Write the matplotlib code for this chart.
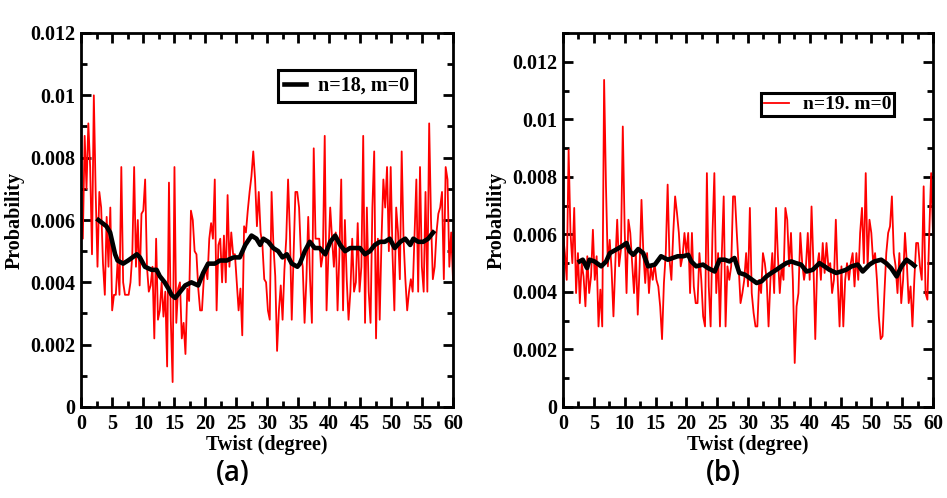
import numpy as np
import matplotlib
matplotlib.use("Agg")
import matplotlib.pyplot as plt
from matplotlib.ticker import MultipleLocator, FuncFormatter

# ---------------- data (probability, in units of 1e-3) ----------------
red_a = [5.8, 5.4, 8.7, 7.0, 9.1, 7.7, 4.9, 10.0, 6.9, 4.5, 6.9, 6.4, 4.6, 3.6, 6.1, 4.5, 6.4, 3.1,
         3.6, 3.6, 4.7, 3.6, 7.7, 4.0, 3.6, 3.6, 3.6, 4.0, 4.9, 7.7, 4.5, 6.0, 3.9, 6.2, 6.3, 7.3,
         4.5, 3.7, 3.9, 4.5, 2.2, 5.4, 2.8, 3.1, 4.0, 2.9, 3.7, 1.3, 7.2, 2.8, 0.8, 7.7, 2.7, 3.8,
         4.0, 2.2, 2.7, 1.7, 3.8, 3.4, 6.3, 6.0, 5.0, 4.9, 3.8, 3.1, 3.1, 4.1, 4.5, 4.1, 5.4, 5.9,
         5.4, 7.3, 3.1, 5.2, 5.4, 4.0, 5.5, 4.0, 6.8, 4.5, 5.6, 4.9, 4.9, 4.0, 3.1, 3.8, 2.3, 5.8,
         5.6, 6.3, 6.9, 7.4, 8.2, 7.3, 5.8, 6.9, 5.6, 5.2, 4.1, 4.0, 3.1, 2.8, 6.9, 5.2, 4.2, 1.8,
         3.1, 3.9, 2.8, 4.4, 5.4, 7.3, 5.6, 2.8, 4.9, 6.9, 6.9, 6.4, 4.9, 4.5, 2.7, 4.1, 6.1, 4.1,
         2.7, 8.3, 5.4, 5.4, 5.4, 4.5, 4.9, 8.7, 3.1, 4.9, 6.4, 5.4, 4.5, 5.6, 3.1, 4.9, 7.3, 3.1,
         6.0, 4.1, 2.8, 3.7, 5.4, 3.7, 4.0, 5.9, 3.7, 4.5, 8.7, 2.7, 6.4, 3.7, 2.7, 6.4, 8.2, 2.2,
         5.4, 2.8, 5.4, 7.3, 6.4, 7.7, 5.0, 7.7, 4.9, 3.1, 6.4, 5.6, 4.1, 8.2, 5.4, 4.1, 3.1, 3.7,
         4.1, 3.7, 5.5, 7.3, 3.7, 7.7, 4.5, 3.7, 6.9, 3.7, 9.1, 6.0, 4.1, 4.5, 5.6, 6.2, 6.4, 6.9,
         4.1, 7.7, 7.3, 4.5, 5.6, 4.1]

avg_a_x = [2.8, 4.1, 4.7, 5.5, 5.9, 6.8, 7.6, 9.0, 9.5, 10.3, 11.4, 12.2, 12.7, 13.5, 14.1, 14.6,
           15.2, 16.0, 16.8, 17.8, 18.9, 19.7, 20.5, 21.6, 22.4, 23.5, 24.6, 25.6, 26.5, 27.5,
           28.3, 28.9, 29.4, 30.2, 31.0, 31.8, 32.5, 33.2, 34.0, 34.9, 35.3, 36.1, 36.9, 37.7,
           38.5, 39.4, 40.2, 41.0, 41.8, 42.6, 43.4, 44.2, 45.0, 45.8, 46.6, 47.4, 48.2, 49.0,
           49.8, 50.6, 51.5, 52.3, 53.1, 53.6, 54.4, 55.2, 56.0, 56.8]
avg_a = [6.0, 5.8, 5.6, 4.9, 4.7, 4.6, 4.7, 4.9, 4.8, 4.5, 4.4, 4.4, 4.2, 4.0, 3.8, 3.6, 3.5, 3.7,
         3.9, 4.0, 3.9, 4.3, 4.6, 4.6, 4.7, 4.7, 4.8, 4.8, 5.2, 5.5, 5.4, 5.2, 5.4, 5.3, 5.1, 5.0,
         4.8, 4.9, 4.6, 4.5, 4.6, 5.0, 5.3, 5.1, 5.1, 4.9, 5.3, 5.5, 5.2, 5.0, 5.1, 5.1, 5.1, 4.9,
         5.0, 5.2, 5.3, 5.3, 5.4, 5.1, 5.3, 5.4, 5.2, 5.4, 5.3, 5.3, 5.4, 5.6]

red_b = [6.0, 5.35, 4.42, 8.94, 6.05, 5.0, 6.92, 3.96, 5.35, 3.61, 5.0, 4.54, 3.5, 5.24, 3.96, 4.54,
         6.16, 4.42, 5.24, 2.8, 4.08, 2.8, 11.37, 7.67, 4.89, 5.81, 4.77, 3.15, 5.0, 6.51, 4.89,
         5.47, 9.75, 6.16, 3.96, 6.51, 6.05, 5.0, 3.96, 5.35, 3.21, 4.89, 7.2, 5.35, 4.31, 5.35,
         3.96, 4.89, 4.42, 5.0, 4.42, 4.19, 3.5, 2.36, 4.31, 5.35, 7.73, 5.12, 4.42, 6.05, 7.32,
         6.74, 6.05, 4.89, 5.24, 6.05, 5.35, 6.05, 3.96, 6.05, 4.19, 3.61, 3.61, 5.35, 4.42, 3.15,
         2.8, 8.13, 4.19, 2.8, 6.05, 8.13, 3.96, 5.35, 2.8, 5.35, 7.32, 2.8, 4.89, 4.42, 4.89, 7.32,
         7.32, 6.05, 4.89, 3.61, 3.96, 4.42, 5.35, 4.19, 6.92, 3.96, 3.27, 2.8, 2.8, 4.42, 3.96,
         5.35, 5.0, 4.42, 2.8, 4.42, 5.35, 3.96, 6.92, 5.24, 3.96, 4.89, 4.42, 6.92, 6.51, 4.89,
         6.05, 4.42, 1.53, 3.5, 3.96, 6.05, 5.0, 4.42, 4.89, 6.05, 4.42, 6.97, 5.0, 2.36, 4.89,
         5.35, 4.42, 5.7, 4.66, 5.7, 4.89, 5.0, 3.96, 4.42, 6.51, 4.42, 2.8, 4.89, 2.8, 4.42, 5.0,
         4.42, 5.0, 5.35, 4.19, 5.35, 4.42, 6.05, 6.92, 5.0, 8.13, 4.89, 6.51, 6.05, 5.0, 5.35,
         4.42, 3.15, 2.36, 2.46, 3.96, 5.35, 6.05, 6.28, 7.32, 5.35, 4.89, 3.96, 5.35, 3.61, 4.42,
         6.05, 5.0, 3.61, 4.19, 2.8, 4.42, 5.7, 5.7, 4.89, 4.42, 7.67, 3.96, 3.73, 6.05, 8.13, 6.05]

avg_b_x = [2.7, 3.2, 3.9, 4.3, 5.1, 6.2, 7.0, 7.6, 8.6, 9.5, 10.3, 10.8, 11.4, 12.2, 13.0, 13.8,
           14.9, 15.9, 17.0, 17.8, 18.6, 19.5, 20.3, 20.8, 21.6, 22.7, 23.5, 24.6, 25.4, 26.2,
           27.0, 27.8, 28.6, 29.5, 30.3, 31.4, 32.2, 33.0, 33.8, 34.6, 35.4, 36.2, 37.0, 37.8,
           38.6, 39.5, 40.5, 41.6, 42.4, 43.2, 44.3, 45.1, 45.9, 46.8, 47.8, 48.6, 49.7, 50.5,
           51.6, 52.4, 53.2, 54.1, 54.9, 55.7, 56.5, 57.0]
avg_b = [5.06, 5.12, 4.83, 5.12, 5.06, 4.89, 5.06, 5.35, 5.47, 5.58, 5.70, 5.41, 5.29, 5.49, 5.35,
         4.89, 4.95, 5.24, 5.12, 5.18, 5.24, 5.24, 5.29, 5.06, 4.89, 4.95, 4.83, 4.71, 5.12, 5.12,
         5.06, 5.18, 4.66, 4.60, 4.48, 4.31, 4.37, 4.54, 4.66, 4.77, 4.89, 5.00, 5.06, 5.00, 4.95,
         4.71, 4.77, 5.00, 4.89, 4.77, 4.66, 4.71, 4.77, 4.89, 4.95, 4.71, 4.95, 5.06, 5.12, 5.00,
         4.83, 4.54, 4.89, 5.12, 5.00, 4.91]

x_ticks = [0, 5, 10, 15, 20, 25, 30, 35, 40, 45, 50, 55, 60]
label_a = "n=18, m=0"
label_b = "n=19. m=0"
panel_a = "(a)"
panel_b = "(b)"

# ---------------- style ----------------
plt.rcParams['font.family'] = ['Liberation Serif', 'DejaVu Serif']
plt.rcParams['font.weight'] = 'bold'
plt.rcParams['axes.labelweight'] = 'bold'

fig = plt.figure(figsize=(9.47, 4.98), dpi=100)
ax_a = fig.add_axes([81 / 947, 1 - 407 / 498, 372 / 947, 374 / 498])
ax_b = fig.add_axes([563 / 947, 1 - 407 / 498, 370 / 947, 374 / 498])

scale = 1e-3


def style(ax, ymax):
    ax.set_xlim(0, 60)
    ax.set_ylim(0, ymax)
    ax.set_xticks(x_ticks)
    ax.xaxis.set_minor_locator(MultipleLocator(2.5))
    ax.yaxis.set_major_locator(MultipleLocator(0.002))
    ax.yaxis.set_minor_locator(MultipleLocator(0.001))
    ax.yaxis.set_major_formatter(FuncFormatter(lambda v, p: "%g" % round(v, 4)))
    ax.tick_params(which='both', direction='in', top=True, right=True, width=2.0)
    ax.tick_params(which='major', length=7, labelsize=14.5)
    ax.tick_params(axis='x', which='major', pad=5)
    ax.tick_params(axis='y', which='major', pad=4)
    ax.tick_params(which='minor', length=4)
    for s in ax.spines.values():
        s.set_linewidth(2.0)
    ax.set_xlabel("Twist (degree)", fontsize=14.5, labelpad=1)
    ax.set_ylabel("Probability", fontsize=14.5, labelpad=4)


xa = np.linspace(0, 60, len(red_a))
ax_a.plot(xa, np.array(red_a) * scale, color='#ff0000', lw=1.3, zorder=2)
ax_a.plot(avg_a_x, np.array(avg_a) * scale, color='black', lw=3.3, zorder=3, label=label_a)
style(ax_a, 0.012)
leg = ax_a.legend(loc='upper right', bbox_to_anchor=(0.898, 0.901), borderaxespad=0,
                  fancybox=False, edgecolor='black', framealpha=1, fontsize=14.5,
                  handlelength=1.1, handletextpad=0.6, borderpad=0.3)
leg.get_frame().set_linewidth(2.2)

xb = np.linspace(0, 60, len(red_b))
ax_b.plot(xb, np.array(red_b) * scale, color='#ff0000', lw=1.3, zorder=2, label=label_b)
ax_b.plot(avg_b_x, np.array(avg_b) * scale, color='black', lw=3.3, zorder=3)
style(ax_b, 0.013)
leg = ax_b.legend(loc='upper right', bbox_to_anchor=(0.895, 0.84), borderaxespad=0,
                  fancybox=False, edgecolor='black', framealpha=1, fontsize=14,
                  handlelength=1.3, handletextpad=0.7, borderpad=0.15)
leg.get_frame().set_linewidth(2.2)

fig.text(233 / 947, 1 - 473 / 498, panel_a, ha='center', va='center', fontsize=20,
         family=['Open Sans', 'DejaVu Sans'], weight='semibold')
fig.text(723 / 947, 1 - 473 / 498, panel_b, ha='center', va='center', fontsize=20,
         family=['Open Sans', 'DejaVu Sans'], weight='semibold')

fig.savefig("out.png", dpi=100)
